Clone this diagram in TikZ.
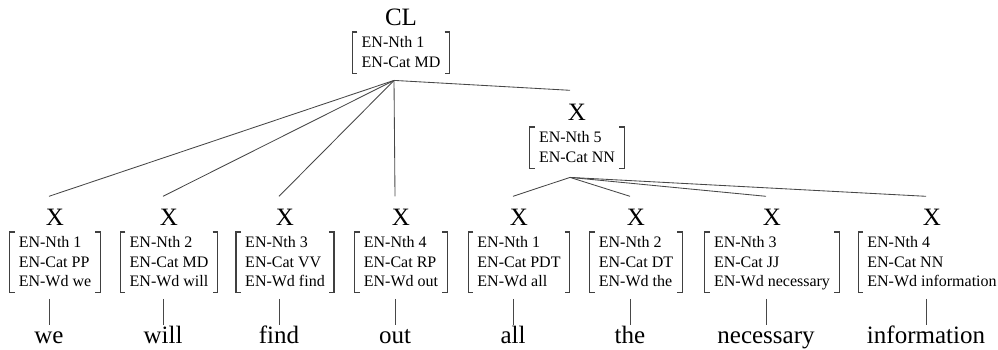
\documentclass[tikz,border=0pt]{standalone}
\usepackage{fontspec}
\setmainfont{Liberation Serif}
\tikzset{
  lbl/.style={font=\fontsize{25}{30}\selectfont, inner sep=0pt, anchor=base, text height=16.5pt},
  word/.style={font=\fontsize{25}{30}\selectfont, inner sep=0pt, anchor=base, text height=18pt, text depth=6pt},
  avm/.style={font=\fontsize{16}{19.5}\selectfont, align=left, inner xsep=9pt, inner ysep=1pt, anchor=north},
  br/.style={draw=black!75, line width=1.1pt},
  edge/.style={draw=black!72, line width=0.85pt},
}
\newcommand{\avmstr}{\rule[-5pt]{0pt}{19.5pt}}
\newcommand{\avmbr}[1]{%
  \draw[br] ([xshift=5pt]#1.north west) -- (#1.north west) -- (#1.south west) -- ([xshift=5pt]#1.south west);
  \draw[br] ([xshift=-5pt]#1.north east) -- (#1.north east) -- (#1.south east) -- ([xshift=-5pt]#1.south east);}
\begin{document}
\begin{tikzpicture}[x=1pt,y=-1pt]
\useasboundingbox (0,0) rectangle (998,349);
% root
\node[lbl] (cl) at (401,25) {CL};
\node[avm] (clb) at (401,32) {\avmstr EN-Nth 1\\\avmstr EN-Cat MD};
\avmbr{clb}
\coordinate (cla) at ([xshift=-7pt,yshift=-7pt]clb.south);
% middle X
\node[lbl] (mx) at (577,120) {X};
\node[avm] (mb) at (577,127) {\avmstr EN-Nth 5\\\avmstr EN-Cat NN};
\avmbr{mb}
\coordinate (ma) at ([xshift=-7pt,yshift=-9pt]mb.south);
\draw[edge] (cla) -- ([xshift=-7pt,yshift=13pt]mx.north);
% leaves
\foreach \i/\cx/\n/\c/\w in {1/55/1/PP/we, 2/169/2/MD/will, 3/285/3/VV/find, 4/401/4/RP/out, 5/519/1/PDT/all, 6/636/2/DT/the, 7/772/3/JJ/necessary, 8/932/4/NN/information}{
  \node[lbl] (x\i) at (\cx,225) {X};
  \node[avm] (b\i) at (\cx,232) {\avmstr EN-Nth \n\\\avmstr EN-Cat \c\\\avmstr EN-Wd \w};
  \avmbr{b\i}
  \node[word] (w\i) at (\cx-6,343) {\w};
  \draw[edge, shorten <=6pt] (w\i.north |- b\i.south) -- (w\i.north);
}
\foreach \i in {1,2,3,4}{
  \draw[edge] (cla) -- ([xshift=-6pt,yshift=12pt]x\i.north);
}
\foreach \i in {5,6,7,8}{
  \draw[edge] (ma) -- ([xshift=-6pt,yshift=12pt]x\i.north);
}
\end{tikzpicture}
\end{document}
